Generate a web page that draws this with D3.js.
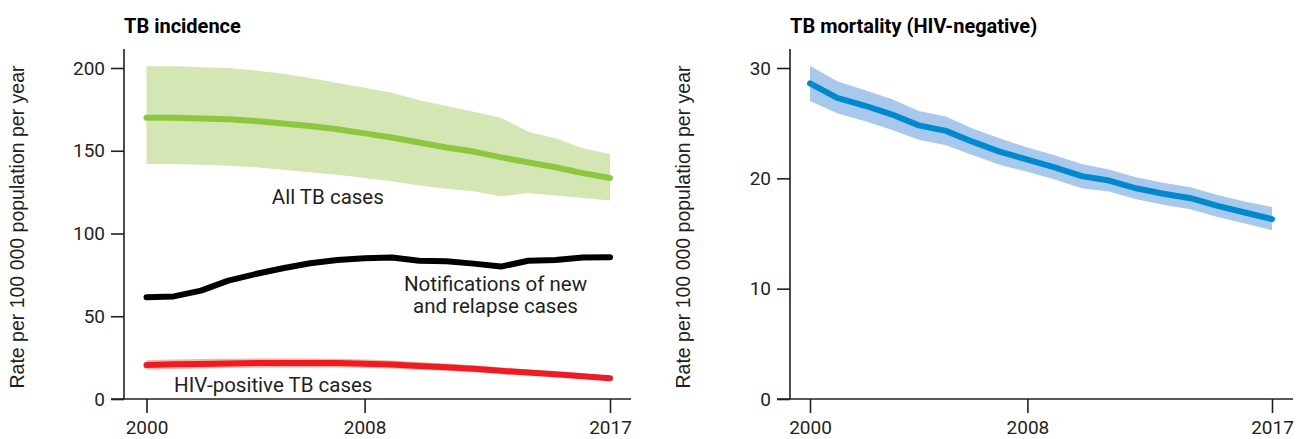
<!DOCTYPE html>
<html>
<head>
<meta charset="utf-8">
<script src="https://cdn.jsdelivr.net/npm/d3@7"></script>
<style>
  body { margin: 0; background: #fff; }
  svg { display: block; }
  .tick text { font-family: Roboto, sans-serif; font-size: 19px; fill: #231f20; }
  .tick line { stroke: #231f20; stroke-width: 1.6px; }
  .axis-line { stroke: #231f20; stroke-width: 1.6px; }
  .title { font-family: Roboto, sans-serif; font-weight: bold; font-size: 20px; fill: #000; }
  .ytitle { font-family: "Liberation Sans", Arial, sans-serif; font-size: 19.5px; fill: #231f20; }
  .label { font-family: Roboto, sans-serif; font-size: 20.5px; fill: #231f20; }
</style>
</head>
<body>
<svg id="chart" width="1298" height="439"></svg>
<script>
// ---------------------------------------------------------------------------
// Data

const years = d3.range(2000, 2018);
const xTicks = [2000, 2008, 2017];

// TB incidence (all cases), with uncertainty interval
const incidence = [170, 170, 169.5, 169, 168, 166.5, 165, 163, 160.5, 158, 155, 152, 149.5, 146, 143, 140, 136.5, 133.5];
const incidenceHi = [201, 201, 200.5, 200, 198.5, 196.5, 194, 191, 188, 185, 180.5, 177, 173.5, 170, 161.5, 157.5, 151.5, 148];
const incidenceLo = [142, 142, 141.5, 141, 140, 138.5, 137, 135.5, 133.5, 131.5, 129, 127, 125.5, 122.5, 124.5, 123, 121.5, 120];

// Notifications of new and relapse cases
const notified = [61.5, 62, 65.5, 71.5, 75.5, 79, 82, 84, 85, 85.5, 83.5, 83.3, 81.8, 80, 83.5, 84, 85.5, 85.7];

// HIV-positive TB incidence
const hivPos = [20.5, 21, 21.2, 21.5, 21.7, 21.8, 21.8, 21.7, 21.3, 20.8, 20, 19.2, 18.3, 17, 16, 15, 13.8, 12.5];
const hivPosHi = [23.4, 23.9, 24.1, 24.3, 24.5, 24.5, 24.5, 24.3, 23.8, 23.2, 22.3, 21.4, 20.4, 19.0, 17.9, 16.8, 15.5, 14.0];
const hivPosLo = [17.6, 18.1, 18.4, 18.7, 18.9, 19.1, 19.1, 19.1, 18.8, 18.4, 17.7, 17.0, 16.2, 15.0, 14.1, 13.2, 12.1, 11.0];

// TB mortality (HIV-negative)
const mortality = [28.6, 27.3, 26.6, 25.8, 24.8, 24.3, 23.3, 22.4, 21.7, 21.0, 20.2, 19.8, 19.1, 18.6, 18.2, 17.5, 16.9, 16.3];
const mortalityHi = [30.2, 28.8, 28.0, 27.2, 26.1, 25.6, 24.5, 23.6, 22.8, 22.1, 21.3, 20.8, 20.1, 19.6, 19.2, 18.5, 17.9, 17.4];
const mortalityLo = [27.0, 25.9, 25.2, 24.4, 23.5, 23.0, 22.1, 21.2, 20.6, 19.9, 19.1, 18.8, 18.1, 17.6, 17.2, 16.5, 15.9, 15.3];

const incidenceTicks = [0, 50, 100, 150, 200];
const mortalityTicks = [0, 10, 20, 30];

const yTitle = 'Rate per 100 000 population per year';

// ---------------------------------------------------------------------------
// Drawing

const svg = d3.select('#chart');

function drawPanel(opts) {
  const x = d3.scaleLinear().domain([2000, 2017]).range(opts.xRange);
  const y = d3.scaleLinear().domain(opts.yDomain).range([399, 68]);
  const axisX = opts.axisX;
  const g = svg.append('g');

  // y axis
  const yAxis = g.append('g')
    .attr('transform', `translate(${axisX},0)`)
    .call(d3.axisLeft(y).tickValues(opts.yTicks).tickSize(13).tickPadding(6));
  yAxis.select('.domain').remove();

  // x axis
  const xAxis = g.append('g')
    .attr('transform', `translate(0,${y(0)})`)
    .call(d3.axisBottom(x).tickValues(xTicks).tickFormat(d3.format('d')).tickSize(14).tickPadding(8));
  xAxis.select('.domain').remove();

  g.append('line').attr('class', 'axis-line')
    .attr('x1', axisX).attr('x2', axisX)
    .attr('y1', 49).attr('y2', y(0));
  g.append('line').attr('class', 'axis-line')
    .attr('x1', axisX - 13).attr('x2', opts.xRange[1] + 21)
    .attr('y1', y(0)).attr('y2', y(0));

  g.append('text').attr('class', 'title')
    .attr('x', axisX).attr('y', 33)
    .text(opts.title);

  g.append('text').attr('class', 'ytitle')
    .attr('transform', `translate(${axisX - 100},227) rotate(-90)`)
    .attr('text-anchor', 'middle')
    .text(yTitle);

  const area = d3.area()
    .x((d, i) => x(years[i]))
    .y0(d => y(d[0]))
    .y1(d => y(d[1]));
  const line = d3.line()
    .x((d, i) => x(years[i]))
    .y(d => y(d));

  opts.series.forEach(s => {
    if (s.lo) {
      g.append('path')
        .attr('d', area(s.lo.map((v, i) => [v, s.hi[i]])))
        .attr('fill', s.band)
        .attr('fill-opacity', s.bandOpacity || 1);
    }
    g.append('path')
      .attr('d', line(s.values))
      .attr('fill', 'none')
      .attr('stroke', s.color)
      .attr('stroke-width', s.width || 6)
      .attr('stroke-linejoin', 'round')
      .attr('stroke-linecap', 'round');
  });

  (opts.labels || []).forEach(l => {
    const t = g.append('text').attr('class', 'label')
      .attr('x', x(l.year)).attr('y', y(l.value))
      .attr('text-anchor', 'middle');
    l.lines.forEach((s, i) => {
      t.append('tspan').attr('x', x(l.year)).attr('dy', i ? 22 : 0).text(s);
    });
  });
}

drawPanel({
  title: 'TB incidence',
  axisX: 124,
  xRange: [146.5, 610],
  yDomain: [0, 200],
  yTicks: incidenceTicks,
  series: [
    { values: incidence, hi: incidenceHi, lo: incidenceLo, color: '#8dc63f', band: '#d3e6b4' },
    { values: notified, color: '#000000' },
    { values: hivPos, hi: hivPosHi, lo: hivPosLo, color: '#ed1c24', band: '#f4a990', bandOpacity: 0.85 }
  ],
  labels: [
    { year: 2006.65, value: 118, lines: ['All TB cases'] },
    { year: 2012.8, value: 65, lines: ['Notifications of new', 'and relapse cases'] },
    { year: 2004.65, value: 4, lines: ['HIV-positive TB cases'] }
  ]
});

drawPanel({
  title: 'TB mortality (HIV-negative)',
  axisX: 790,
  xRange: [810, 1272],
  yDomain: [0, 30],
  yTicks: mortalityTicks,
  series: [
    { values: mortality, hi: mortalityHi, lo: mortalityLo, color: '#0089cf', band: '#a9c9ec' }
  ]
});
</script>
</body>
</html>
